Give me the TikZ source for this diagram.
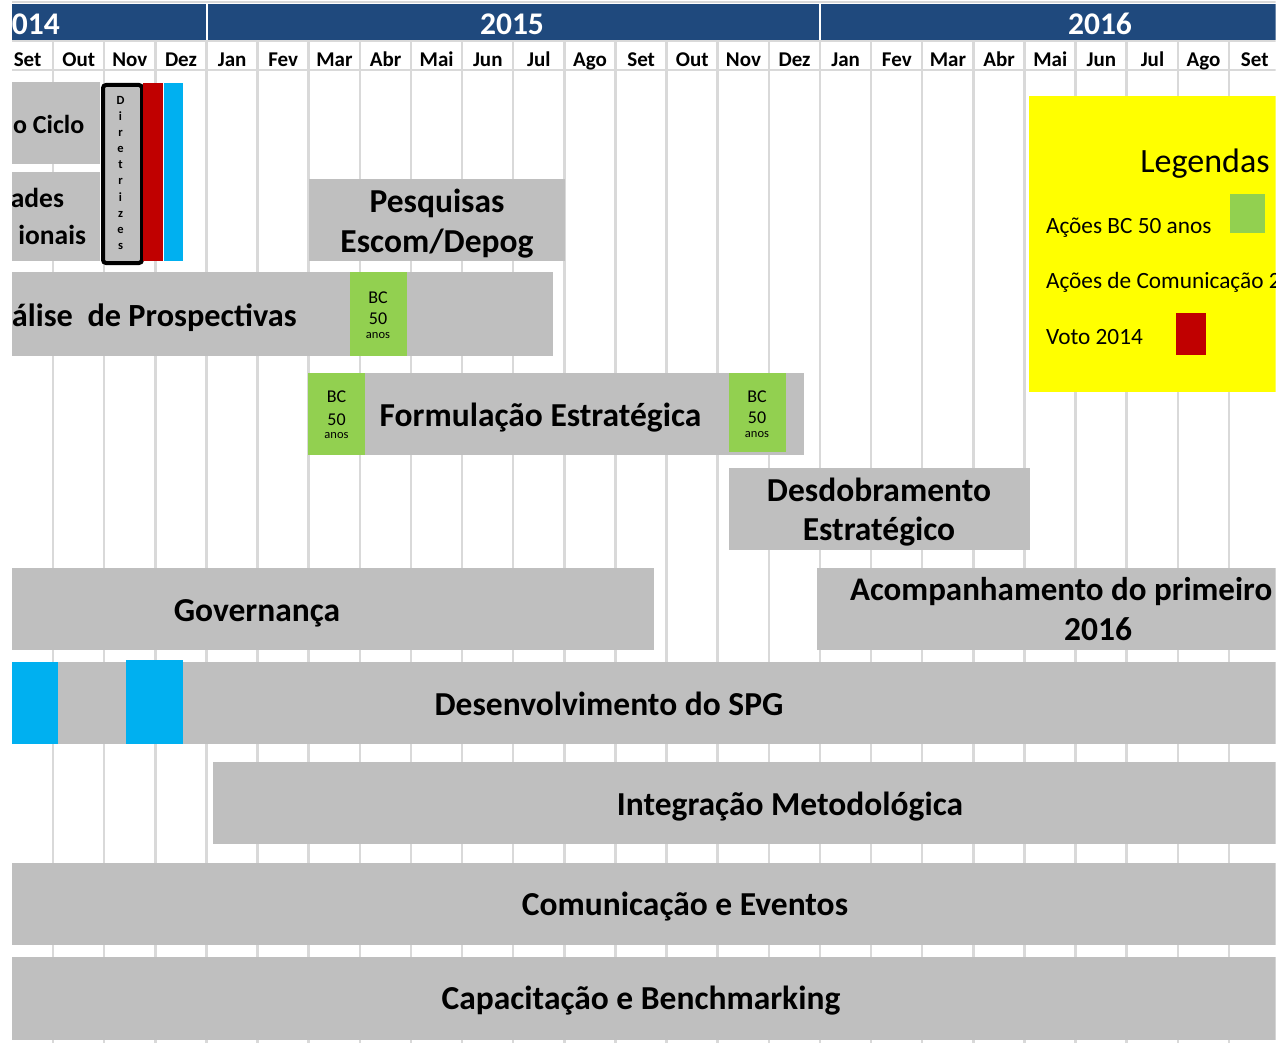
\documentclass[tikz,border=0pt]{standalone}
\usepackage{fontspec}
\setmainfont{Carlito}
\definecolor{hdrblue}{RGB}{31,73,125}
\definecolor{gbarcol}{RGB}{191,191,191}
\definecolor{gridcol}{RGB}{217,217,217}
\definecolor{bcgreen}{RGB}{146,208,80}
\definecolor{votored}{RGB}{192,0,0}
\definecolor{comblue}{RGB}{0,176,240}
\definecolor{legyellow}{RGB}{255,255,0}
\newcommand\gbar[6][gbarcol]{%
  \node[fill=#1, inner sep=0pt, outer sep=0pt, anchor=north west,
        minimum width={(#5-#3)*1pt}, minimum height={(#6-#4)*1pt}] (#2) at (#3,#4) {};}
\begin{document}
\begin{tikzpicture}[x=1pt,y=-1pt,
  gridline/.style={draw=gridcol, line width=2.5pt},
  base/.style={inner sep=0pt, outer sep=0pt, text depth=0pt},
  lbl/.style={base, text height=21.1pt, font=\bfseries\fontsize{33.5}{38}\selectfont},
  sml/.style={base, text height=17.3pt, font=\bfseries\fontsize{27.5}{32}\selectfont},
  mon/.style={base, text height=13.2pt, font=\bfseries\fontsize{21}{24}\selectfont},
  yr/.style={base, text height=19.8pt, text=white, font=\bfseries\fontsize{31.5}{36}\selectfont},
  bcA/.style={base, text height=11.3pt, font=\fontsize{18}{20}\selectfont},
  bcB/.style={base, text height=5.8pt, font=\fontsize{12.5}{14}\selectfont},
  dirl/.style={base, text height=7.9pt, font=\bfseries\fontsize{12.5}{13}\selectfont},
  legt/.style={base, text height=14.7pt, anchor=west, font=\fontsize{23.3}{27}\selectfont},
  legh/.style={base, text height=21.4pt, font=\fontsize{34}{38}\selectfont},
]
\useasboundingbox (0,0) rectangle (1282,1043);
\fill[white] (0,0) rectangle (1282,1043);
\clip (12,0) rectangle (1275.5,1043);

% header
\draw[gridcol, line width=1.5pt] (12,2) -- (1275.5,2);
\fill[hdrblue] (12,4) rectangle (205.8,40);
\fill[hdrblue] (208,4) rectangle (818.8,40);
\fill[hdrblue] (821,4) rectangle (1275.5,40);
\draw[gridcol, line width=2pt] (12,41) -- (1275.5,41);
\draw[gridcol, line width=2pt] (12,70) -- (1275.5,70);
\foreach \k in {0,...,23}
  \draw[gridline] ({53+51.13*\k},41) -- ({53+51.13*\k},1043);
\node[yr, anchor=west] (y14) at (12,25) {014};
\node[yr] (y15) at (512,25) {2015};
\node[yr] (y16) at (1100,25) {2016};
\foreach \m [count=\i from 0] in {Set,Out,Nov,Dez,Jan,Fev,Mar,Abr,Mai,Jun,Jul,Ago,Set,Out,Nov,Dez,Jan,Fev,Mar,Abr,Mai,Jun,Jul,Ago,Set}
  \node[mon] (m\i) at ({27.6+51.13*\i},59.5) {\m};

% top-left bars
\gbar{ciclo}{12}{82}{100}{164}
\node[sml, anchor=west, font=\bfseries\fontsize{26}{30}\selectfont, text height=16.4pt] (ciclot) at (13,125.5) {o Ciclo};
\gbar{prior}{12}{172}{100}{261}
\node[sml, anchor=east] (priort1) at (64,199) {ades};
\node[sml, anchor=east] (priort2) at (86,236) {ionais};
\node[draw=black, line width=4pt, rounded corners=3pt, fill=gbarcol, inner sep=0pt,
      anchor=north west, minimum width=39pt, minimum height=178pt] (dir) at (101,83) {};
\foreach \c [count=\i from 0] in {D,i,r,e,t,r,i,z,e,s}
  \node[dirl] (dir\i) at (120.5,{100.5+16.1*\i}) {\c};
\gbar[votored]{voto}{142.7}{83}{162.7}{261}
\gbar[comblue]{com1}{164}{83}{183}{261}

% Pesquisas
\gbar{pesq}{309}{179}{565}{261}
\node[lbl] (pesqt1) at (437,202) {Pesquisas};
\node[lbl] (pesqt2) at (437,242) {Escom/Depog};

% Prospectivas
\gbar{prosp}{12}{272}{553}{356}
\node[lbl, anchor=west, font=\bfseries\fontsize{32.3}{38}\selectfont, text height=20.3pt] (prospt) at (12,316) {álise\ \ de Prospectivas};
\gbar[bcgreen]{bc1}{350}{272}{407}{356}
\node[bcA] (bc1a) at (378,297.5) {BC};
\node[bcA] (bc1b) at (378,318.5) {50};
\node[bcB] (bc1c) at (378,335.5) {anos};

% Formulacao
\gbar{form}{308}{373}{804}{455}
\gbar[bcgreen]{bc2}{308}{373}{365}{455}
\node[bcA] (bc2a) at (336.5,397) {BC};
\node[bcA] (bc2b) at (336.5,419.5) {50};
\node[bcB] (bc2c) at (336.5,436) {anos};
\gbar[bcgreen]{bc3}{729}{373}{786}{452}
\node[bcA] (bc3a) at (757,396.5) {BC};
\node[bcA] (bc3b) at (757,418) {50};
\node[bcB] (bc3c) at (757,434.5) {anos};
\node[lbl] (formt) at (540.5,416) {Formulação Estratégica};

% Desdobramento
\gbar{desd}{729}{468}{1030}{550}
\node[lbl] (desdt1) at (879,490.5) {Desdobramento};
\node[lbl] (desdt2) at (879,530) {Estratégico};

% Governanca / Acompanhamento
\gbar{gov}{12}{568}{654}{650}
\node[lbl] (govt) at (257,611) {Governança};
\gbar{acomp}{817}{568}{1275.5}{650}
\node[lbl, anchor=west, font=\bfseries\fontsize{33}{38}\selectfont, text height=20.8pt] (acompt1) at (850,590.5) {Acompanhamento do primeiro};
\node[lbl] (acompt2) at (1098,630) {2016};

% SPG
\gbar{spg}{12}{662}{1275.5}{744}
\gbar[comblue]{spgb1}{12}{662}{58}{744}
\gbar[comblue]{spgb2}{126}{660}{183}{744}
\node[lbl] (spgt) at (609,705) {Desenvolvimento do SPG};

% Integracao
\gbar{integ}{213}{762}{1275.5}{844}
\node[lbl] (integt) at (790,805) {Integração Metodológica};

% Comunicacao
\gbar{comu}{12}{863}{1275.5}{945}
\node[lbl] (comut) at (685,905) {Comunicação e Eventos};

% Capacitacao
\gbar{capac}{12}{957}{1275.5}{1040}
\node[lbl] (capact) at (641,999) {Capacitação e Benchmarking};

% legend
\gbar[legyellow]{leg}{1029}{96}{1275.5}{392}
\node[legh] (legt) at (1205,162) {Legendas};
\node[legt] (leg1) at (1046,226) {Ações BC 50 anos};
\gbar[bcgreen]{leg1sq}{1230}{194}{1265}{233}
\node[legt] (leg2) at (1046,281) {Ações de Comunicação 2};
\node[legt] (leg3) at (1046,337) {Voto 2014};
\gbar[votored]{leg3sq}{1176}{313}{1206}{355}
\end{tikzpicture}
\end{document}
